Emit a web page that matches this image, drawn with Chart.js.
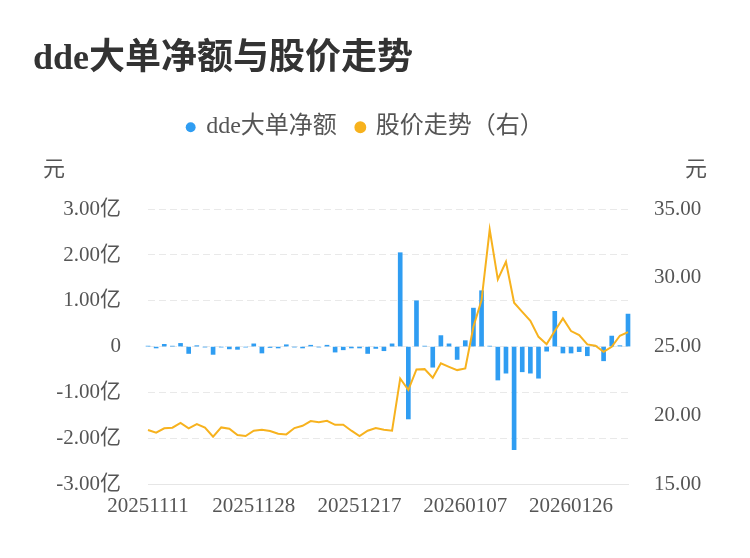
<!DOCTYPE html>
<html>
<head>
<meta charset="utf-8">
<script src="https://cdn.jsdelivr.net/npm/chart.js@4/dist/chart.umd.min.js"></script>
<style>
html,body{margin:0;padding:0;background:#fff;}
#wrap{width:750px;height:558px;}
</style>
</head>
<body>
<div id="wrap"><canvas id="c" width="750" height="558"></canvas></div>
<script>
const dates = [
'20251111','20251112','20251113','20251114','20251117','20251118','20251119','20251120','20251121','20251124',
'20251125','20251126','20251127','20251128','20251201','20251202','20251203','20251204','20251205','20251208',
'20251209','20251210','20251211','20251212','20251215','20251216','20251217','20251218','20251219','20251222',
'20251223','20251224','20251225','20251226','20251229','20251230','20251231','20260105','20260106','20260107',
'20260108','20260109','20260112','20260113','20260114','20260115','20260116','20260119','20260120','20260121',
'20260122','20260123','20260126','20260127','20260128','20260129','20260130','20260202','20260203','20260204'
];
const shownDates = ['20251111','20251128','20251217','20260107','20260126'];
// dde大单净额 (亿元)
const ddeValues = [
0.01,-0.03,0.05,0.01,0.07,-0.15,0.02,-0.01,-0.17,-0.01,
-0.05,-0.06,-0.01,0.06,-0.14,-0.02,-0.03,0.04,-0.01,-0.03,
0.03,-0.01,0.03,-0.12,-0.07,-0.03,-0.03,-0.15,-0.04,-0.09,
0.06,2.05,-1.58,1.00,0.01,-0.45,0.24,0.06,-0.28,0.13,
0.84,1.22,0.01,-0.73,-0.58,-2.25,-0.55,-0.58,-0.69,-0.10,
0.77,-0.14,-0.14,-0.11,-0.20,0.01,-0.31,0.23,0.02,0.71
];
// 股价 (元)
const priceValues = [
18.93,18.73,19.05,19.10,19.44,19.05,19.36,19.10,18.44,19.12,
19.02,18.56,18.49,18.88,18.95,18.86,18.66,18.61,19.07,19.24,
19.58,19.50,19.60,19.31,19.31,18.88,18.49,18.88,19.07,18.95,
18.88,22.68,21.84,23.34,23.36,22.73,23.78,23.53,23.29,23.41,
26.44,28.38,33.52,29.89,31.17,28.19,27.53,26.88,25.71,25.18,
26.13,27.05,26.13,25.84,25.16,25.06,24.62,24.99,25.79,26.05
];
const leftTicks = {min:-3, max:3, step:1};
const rightTicks = {min:15, max:35, step:5};

const FONT = "'Liberation Serif', 'Noto Sans CJK SC', serif";
const BLUE = '#2f9df2';
const ORANGE = '#f7b21e';

const unitPlugin = {
  id: 'units',
  afterLayout(chart) {
    // centre the legend over the plotting region like the reference
    if (chart.legend) { chart.legend.right = chart.legend.right - 52; }
  },
  afterDraw(chart) {
    const {ctx, chartArea} = chart;
    ctx.save();
    ctx.font = "22px " + FONT;
    ctx.fillStyle = '#555';
    ctx.textAlign = 'center';
    ctx.textBaseline = 'middle';
    ctx.fillText('元', 54, chartArea.top - 39);
    ctx.fillText('元', 696, chartArea.top - 39);
    ctx.restore();
  }
};

new Chart(document.getElementById('c'), {
  data: {
    labels: dates,
    datasets: [
      {
        type: 'line',
        label: '股价走势（右）',
        data: priceValues,
        yAxisID: 'y1',
        borderColor: ORANGE,
        backgroundColor: ORANGE,
        borderWidth: 2,
        pointRadius: 0,
        tension: 0
      },
      {
        type: 'bar',
        label: 'dde大单净额',
        data: ddeValues,
        yAxisID: 'y',
        backgroundColor: BLUE,
        borderWidth: 0,
        barThickness: 4,
        clip: false
      }
    ]
  },
  options: {
    responsive: false,
    animation: false,
    devicePixelRatio: 1,
    layout: {padding: {left: 33, right: 0, top: 0, bottom: 0}},
    plugins: {
      tooltip: {enabled: false},
      title: {
        display: true,
        text: 'dde大单净额与股价走势',
        align: 'start',
        color: '#333',
        font: {family: FONT, size: 36, weight: 'bold'},
        padding: {top: 38, bottom: 14}
      },
      legend: {
        display: true,
        position: 'top',
        reverse: true,
        labels: {
          usePointStyle: true,
          pointStyle: 'circle',
          boxWidth: 7,
          boxHeight: 7,
          padding: 20,
          color: '#555',
          font: {family: FONT, size: 24}
        }
      }
    },
    scales: {
      x: {
        type: 'category',
        offset: false,
        grid: {display: false, drawTicks: false},
        border: {display: true, color: '#e6e6e6'},
        ticks: {
          autoSkip: false,
          maxRotation: 0,
          padding: 10,
          color: '#555',
          font: {family: FONT, size: 21},
          callback: function(v, i) {
            const d = this.getLabelForValue(v);
            return shownDates.includes(d) ? d : '';
          }
        },
        afterFit: s => { s.height = 74; }
      },
      xTop: {
        type: 'category',
        position: 'top',
        grid: {display: false, drawTicks: false},
        border: {display: false},
        ticks: {display: false},
        afterFit: s => { s.height = 60; }
      },
      y: {
        position: 'left',
        min: leftTicks.min,
        max: leftTicks.max,
        grid: {color: '#e9e9e9', drawTicks: false, lineWidth: 1},
        border: {display: false, dash: [7, 4]},
        ticks: {
          stepSize: leftTicks.step,
          padding: 27,
          color: '#555',
          font: {family: FONT, size: 21},
          callback: v => v === 0 ? '0' : v.toFixed(2) + '亿'
        },
        afterFit: s => { s.width = 115; }
      },
      y1: {
        position: 'right',
        min: rightTicks.min,
        max: rightTicks.max,
        grid: {drawOnChartArea: false, drawTicks: false},
        border: {display: false},
        ticks: {
          stepSize: rightTicks.step,
          padding: 26,
          color: '#555',
          font: {family: FONT, size: 21},
          callback: v => v.toFixed(2)
        },
        afterFit: s => { s.width = 122; }
      }
    }
  },
  plugins: [unitPlugin]
});
</script>
</body>
</html>
